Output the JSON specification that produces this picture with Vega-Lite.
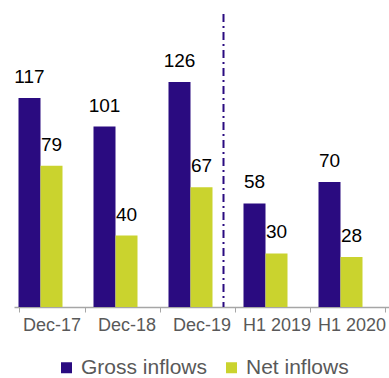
{
  "$schema": "https://vega.github.io/schema/vega-lite/v6.json",
  "autosize": {"type": "none"},
  "width": 375,
  "height": 293,
  "padding": {"left": 14, "top": 14, "right": 0, "bottom": 71},
  "background": "white",
  "config": {"view": {"stroke": null}, "font": "Liberation Sans"},
  "data": {"values": [
    {"period": "Dec-17", "series": "Gross inflows", "value": 117},
    {"period": "Dec-17", "series": "Net inflows", "value": 79},
    {"period": "Dec-18", "series": "Gross inflows", "value": 101},
    {"period": "Dec-18", "series": "Net inflows", "value": 40},
    {"period": "Dec-19", "series": "Gross inflows", "value": 126},
    {"period": "Dec-19", "series": "Net inflows", "value": 67},
    {"period": "H1 2019", "series": "Gross inflows", "value": 58},
    {"period": "H1 2019", "series": "Net inflows", "value": 30},
    {"period": "H1 2020", "series": "Gross inflows", "value": 70},
    {"period": "H1 2020", "series": "Net inflows", "value": 28}
  ]},
  "encoding": {
    "x": {
      "field": "period", "type": "nominal", "sort": null,
      "scale": {"domain": ["Dec-17", "Dec-18", "Dec-19", "H1 2019", "H1 2020"], "paddingInner": 0.12, "paddingOuter": 0.06},
      "axis": {"title": null, "labelAngle": 0, "labelFontSize": 18, "labelColor": "#595959", "labelPadding": 4,
               "tickBand": "extent", "tickColor": "#A6A6A6", "tickSize": 5, "domainColor": "#A6A6A6", "domainWidth": 1.5}
    },
    "xOffset": {"field": "series", "type": "nominal", "scale": {"domain": ["Gross inflows", "Net inflows", "zz"], "paddingInner": 0, "paddingOuter": 0}}
  },
  "layer": [
    {
      "mark": {"type": "bar"},
      "encoding": {
        "y": {"field": "value", "type": "quantitative", "scale": {"domain": [0, 164], "nice": false}, "axis": null},
        "color": {
          "field": "series", "type": "nominal",
          "scale": {"domain": ["Gross inflows", "Net inflows"], "range": ["#2A0B80", "#CAD32E"]},
          "legend": {"title": null, "orient": "none", "direction": "horizontal", "legendX": 42, "legendY": 343,
                     "symbolType": "square", "symbolSize": 121, "symbolStrokeWidth": 0, "labelFontSize": 21, "labelColor": "#595959",
                     "labelOffset": 4, "columnPadding": 13}
        }
      }
    },
    {
      "mark": {"type": "text", "baseline": "alphabetic", "dy": -15, "fontSize": 19, "color": "black"},
      "encoding": {
        "y": {"field": "value", "type": "quantitative"},
        "text": {"field": "value", "type": "quantitative"}
      }
    },
    {
      "data": {"values": [{"period": "Dec-19", "series": "zz"}]},
      "mark": {"type": "rule", "color": "#2A0B80", "strokeWidth": 2, "strokeDash": [8, 4, 2, 4], "xOffset": 11},
      "encoding": {}
    }
  ]
}
